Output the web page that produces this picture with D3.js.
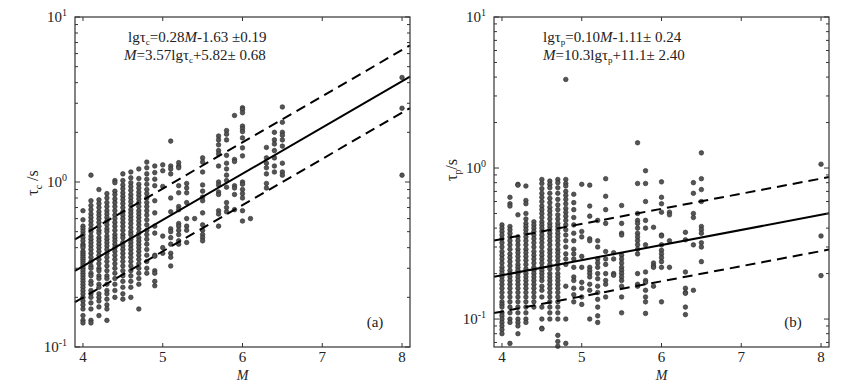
<!DOCTYPE html>
<html><head><meta charset="utf-8">
<script src="https://cdn.jsdelivr.net/npm/d3@7"></script>
<style>
body{margin:0;background:#fff}
svg{display:block}
text{font-family:"Liberation Serif","Tinos","Times New Roman","Nimbus Roman",Times,serif;fill:#222}
</style>
</head><body><svg id="c" width="859" height="382" font-family="Liberation Serif, Times New Roman, serif"></svg>
<script>
// ---------- data ----------
const magsC = [4.0,4.1,4.2,4.3,4.4,4.5,4.6,4.7,4.8,4.9,5.0,5.1,5.2,5.3,5.4,5.5,5.7,5.8,5.9,6.0,6.1,6.3,6.4,6.5,8.0];
const tauC = [
 [0.67,0.59,0.54,0.52,0.50,0.48,0.46,0.44,0.42,0.41,0.40,0.38,0.37,0.36,0.35,0.34,0.33,0.32,0.31,0.30,0.29,0.28,0.27,0.26,0.25,0.24,0.23,0.22,0.21,0.20,0.19,0.18,0.17,0.155,0.145,0.14],
 [1.10,0.77,0.72,0.68,0.64,0.61,0.58,0.55,0.52,0.50,0.47,0.45,0.43,0.41,0.39,0.37,0.35,0.33,0.31,0.30,0.28,0.27,0.25,0.24,0.22,0.21,0.20,0.185,0.17,0.145,0.14],
 [0.90,0.78,0.74,0.70,0.66,0.63,0.60,0.57,0.54,0.51,0.49,0.46,0.44,0.42,0.40,0.38,0.36,0.34,0.32,0.30,0.29,0.27,0.26,0.24,0.23,0.21,0.20,0.19,0.175,0.155],
 [0.85,0.80,0.75,0.71,0.67,0.64,0.61,0.58,0.55,0.52,0.50,0.47,0.45,0.43,0.41,0.39,0.37,0.35,0.33,0.31,0.29,0.27,0.26,0.24,0.22,0.21,0.195,0.18,0.17,0.145],
 [1.02,0.99,0.88,0.84,0.79,0.75,0.71,0.67,0.63,0.60,0.57,0.54,0.51,0.48,0.46,0.44,0.42,0.40,0.38,0.36,0.34,0.32,0.30,0.28,0.26,0.24,0.22,0.20],
 [1.12,1.02,0.96,0.91,0.86,0.82,0.78,0.74,0.70,0.66,0.63,0.60,0.57,0.54,0.51,0.48,0.46,0.43,0.41,0.39,0.37,0.35,0.33,0.31,0.29,0.27,0.25,0.23,0.21,0.195],
 [1.15,1.06,0.99,0.94,0.89,0.84,0.80,0.76,0.72,0.68,0.65,0.62,0.59,0.56,0.53,0.50,0.48,0.45,0.43,0.41,0.39,0.37,0.35,0.33,0.31,0.29,0.27,0.25,0.23,0.20],
 [1.20,1.05,0.97,0.92,0.87,0.83,0.79,0.75,0.71,0.67,0.64,0.61,0.58,0.55,0.52,0.49,0.46,0.44,0.42,0.40,0.38,0.36,0.34,0.32,0.30,0.28,0.26,0.24,0.17],
 [1.32,1.22,1.12,1.04,0.97,0.90,0.85,0.80,0.75,0.71,0.67,0.63,0.59,0.55,0.51,0.48,0.45,0.42,0.39,0.36,0.33,0.30,0.28],
 [1.25,1.14,1.04,0.95,0.77,0.65,0.54,0.49,0.36,0.355,0.29,0.28,0.25,0.235],
 [1.27,1.17,0.94,0.47,0.40,0.37],
 [1.77,1.25,1.20,1.12,0.80,0.66,0.52,0.50,0.46,0.42,0.37,0.35,0.31],
 [1.31,1.25,1.22,0.95,0.86,0.71,0.68,0.56,0.54,0.51,0.48,0.44,0.42],
 [0.98,0.92,0.86,0.75,0.60,0.54,0.51,0.43],
 [0.60],
 [1.40,1.32,1.15,0.96,0.88,0.81,0.77,0.65,0.55,0.51,0.48,0.46,0.44],
 [1.90,1.80,1.68,1.55,1.48,1.25,1.00,0.96,0.87,0.84,0.67,0.64,0.54],
 [2.05,1.95,1.80,1.45,1.30,1.20,1.10,1.02,0.93,0.75,0.70,0.66],
 [2.53,1.37,1.33,0.95,0.92,0.84,0.68],
 [2.82,2.75,2.63,2.18,2.10,2.02,1.85,1.61,1.44,1.00,0.97,0.90,0.85,0.80,0.67,0.58],
 [0.60],
 [1.62,1.40,1.30,1.22,1.12,0.98,0.92],
 [2.00,1.80,1.70,1.55,1.40,1.25,1.15],
 [2.85,2.30,2.00,1.92,1.80,1.65,1.30,1.15,1.10],
 [4.30,2.80,1.10]
];
const magsP = [4.0,4.1,4.2,4.3,4.4,4.5,4.6,4.7,4.8,4.9,5.0,5.1,5.2,5.3,5.4,5.5,5.7,5.8,5.9,6.0,6.1,6.3,6.4,6.5,8.0];
const tauP = [
 [0.42,0.40,0.38,0.36,0.34,0.32,0.30,0.28,0.265,0.25,0.235,0.22,0.21,0.20,0.19,0.18,0.17,0.16,0.15,0.14,0.13,0.125,0.12,0.11,0.105,0.10,0.095,0.09,0.085,0.08],
 [0.64,0.58,0.56,0.41,0.39,0.37,0.35,0.33,0.31,0.29,0.27,0.255,0.24,0.225,0.21,0.20,0.19,0.18,0.17,0.16,0.15,0.14,0.13,0.12,0.11,0.10,0.095,0.069],
 [0.78,0.77,0.49,0.35,0.33,0.31,0.29,0.275,0.26,0.245,0.23,0.22,0.21,0.20,0.19,0.18,0.17,0.16,0.15,0.14,0.13,0.12,0.11,0.10,0.095,0.09,0.08],
 [0.76,0.61,0.58,0.50,0.46,0.43,0.41,0.39,0.37,0.35,0.33,0.31,0.29,0.275,0.26,0.245,0.23,0.215,0.20,0.19,0.18,0.17,0.16,0.15,0.14,0.13,0.12,0.11,0.10,0.095],
 [0.44,0.42,0.40,0.38,0.36,0.34,0.32,0.30,0.28,0.265,0.25,0.235,0.22,0.21,0.20,0.19,0.18,0.17,0.16,0.15,0.14,0.13,0.12],
 [0.84,0.79,0.73,0.68,0.64,0.60,0.56,0.53,0.50,0.47,0.44,0.42,0.40,0.38,0.36,0.34,0.32,0.30,0.28,0.265,0.25,0.235,0.22,0.21,0.20,0.19,0.18,0.165,0.155,0.14,0.12,0.10,0.087,0.086],
 [0.82,0.78,0.74,0.68,0.63,0.59,0.55,0.52,0.49,0.46,0.43,0.41,0.39,0.37,0.35,0.33,0.31,0.29,0.275,0.26,0.245,0.23,0.215,0.20,0.19,0.18,0.17,0.16,0.15,0.14,0.13,0.12,0.11,0.10],
 [0.84,0.80,0.74,0.68,0.62,0.57,0.53,0.49,0.46,0.43,0.41,0.39,0.37,0.35,0.33,0.31,0.29,0.275,0.26,0.245,0.23,0.215,0.20,0.19,0.18,0.17,0.16,0.15,0.14,0.13,0.12,0.11,0.10,0.078,0.071,0.066],
 [3.86,0.84,0.79,0.76,0.70,0.66,0.62,0.58,0.54,0.51,0.48,0.45,0.42,0.39,0.36,0.33,0.30,0.27,0.25,0.23,0.165,0.10,0.069],
 [0.67,0.59,0.53,0.47,0.42,0.37,0.33,0.29,0.27,0.25,0.22,0.19,0.18,0.16,0.145,0.13],
 [0.78,0.38,0.35,0.26,0.22,0.175,0.16,0.14,0.125],
 [0.77,0.56,0.48,0.34,0.33,0.22,0.21,0.20,0.19,0.17,0.155,0.10],
 [0.45,0.33,0.30,0.25,0.235,0.22,0.20,0.185,0.165,0.15,0.135,0.12,0.105,0.095],
 [0.85,0.65,0.53,0.43,0.28,0.25,0.23,0.20,0.18,0.17,0.14],
 [0.275,0.25,0.20,0.195],
 [0.565,0.43,0.37,0.36,0.265,0.25,0.235,0.22,0.21,0.20,0.19,0.18,0.165,0.14,0.11],
 [1.47,0.79,0.50,0.45,0.43,0.40,0.37,0.35,0.33,0.31,0.29,0.27,0.20,0.17,0.165],
 [0.96,0.79,0.60,0.45,0.40,0.31,0.205,0.18,0.175,0.155,0.14,0.13,0.109],
 [0.405,0.235,0.225,0.22,0.165],
 [0.81,0.64,0.58,0.51,0.36,0.355,0.31,0.285,0.27,0.255,0.24,0.22,0.13],
 [0.51,0.49,0.33,0.22],
 [0.375,0.335,0.205,0.16,0.15,0.148,0.12,0.107],
 [0.80,0.68,0.50,0.47,0.31,0.155],
 [1.26,0.85,0.72,0.60,0.41,0.39,0.37,0.32,0.30,0.24],
 [1.06,0.355,0.194]
];
// fit: [slope, intercept, ±sd] of lg(tau) = slope*M + intercept
const fitC = [0.28, -1.63, 0.19];
const fitP = [0.10, -1.11, 0.24];
const xTicks = [4,5,6,7,8];
const yMajorC = [0.1, 1, 10];
const yMajorP = [0.1, 1, 10];

// ---------- drawing ----------
const svg = d3.select("#c");

function panel(o) {
  const g = svg.append("g");
  const x = d3.scaleLinear().domain([3.9, 8.1]).range([o.left, o.right]);
  const y = d3.scaleLog().domain(o.yDom).range([o.bottom, o.top]);

  const pts = [];
  o.mags.forEach((m, i) => o.vals[i].forEach(v => pts.push([m, v])));
  g.append("g").selectAll("circle").data(pts).join("circle")
    .attr("cx", d => x(d[0])).attr("cy", d => y(d[1])).attr("r", 2.3)
    .attr("fill", "#555").attr("stroke", "#2a2a2a").attr("stroke-width", 0.6);

  const [s, b, sd] = o.fit;
  const line = d3.line().x(d => x(d[0])).y(d => y(d[1]));
  const mk = off => [3.9, 8.1].map(m => [m, Math.pow(10, s * m + b + off)]);
  g.append("path").attr("d", line(mk(0))).attr("fill", "none").attr("stroke", "#000").attr("stroke-width", 2);
  [sd, -sd].forEach(off => g.append("path").attr("d", line(mk(off))).attr("fill", "none")
    .attr("stroke", "#000").attr("stroke-width", 2).attr("stroke-dasharray", "10,6"));

  g.append("rect").attr("x", o.left).attr("y", o.top).attr("width", o.right - o.left)
    .attr("height", o.bottom - o.top).attr("fill", "none").attr("stroke", "#333").attr("stroke-width", 1.2);

  xTicks.forEach(t => {
    const px = x(t);
    g.append("line").attr("x1", px).attr("x2", px).attr("y1", o.bottom).attr("y2", o.bottom - 4).attr("stroke", "#333");
    g.append("line").attr("x1", px).attr("x2", px).attr("y1", o.top).attr("y2", o.top + 4).attr("stroke", "#333");
    g.append("text").attr("x", px).attr("y", o.bottom + 15).attr("text-anchor", "middle")
      .attr("font-size", 15).text(t);
  });
  y.ticks().forEach(t => {
    const lg = Math.log10(t);
    const major = Math.abs(lg - Math.round(lg)) < 1e-9;
    const len = major ? 5 : 3;
    const py = y(t);
    g.append("line").attr("x1", o.left).attr("x2", o.left + len).attr("y1", py).attr("y2", py).attr("stroke", "#333");
    g.append("line").attr("x1", o.right).attr("x2", o.right - len).attr("y1", py).attr("y2", py).attr("stroke", "#333");
  });
  o.yMajor.forEach(t => {
    const e = Math.round(Math.log10(t));
    const tx = g.append("text").attr("x", o.left - 8).attr("y", y(t) + 5).attr("text-anchor", "end").attr("font-size", 15);
    tx.append("tspan").text("10");
    tx.append("tspan").attr("font-size", 10).attr("dy", -6).text(e);
  });

  g.append("text").attr("x", (o.left + o.right) / 2).attr("y", 380).attr("text-anchor", "middle")
    .attr("font-size", 14).attr("font-style", "italic").text("M");
  const yt = g.append("text").attr("transform", `translate(${o.ylabX},${o.ylabY}) rotate(-90)`)
    .attr("text-anchor", "middle").attr("font-size", 16);
  yt.append("tspan").text("τ");
  yt.append("tspan").attr("font-size", 10).attr("dy", 4).text(o.sub);
  yt.append("tspan").attr("dy", -4).text(o.slash);

  const e1 = g.append("text").attr("x", o.eqX).attr("y", 42).attr("font-size", 15);
  e1.append("tspan").text("lgτ");
  e1.append("tspan").attr("font-size", 9).attr("dy", 3).text(o.sub);
  e1.append("tspan").attr("dy", -3).text(o.eq1a);
  e1.append("tspan").attr("font-style", "italic").text("M");
  e1.append("tspan").text(o.eq1b);
  const e2 = g.append("text").attr("x", o.eqX2).attr("y", 60).attr("font-size", 15);
  e2.append("tspan").attr("font-style", "italic").text("M");
  e2.append("tspan").text(o.eq2a);
  e2.append("tspan").attr("font-size", 9).attr("dy", 3).text(o.sub);
  e2.append("tspan").attr("dy", -3).text(o.eq2b);

  g.append("text").attr("x", o.tagX).attr("y", 327).attr("text-anchor", "middle").attr("font-size", 15).text(o.tag);
}

panel({left: 75, right: 410, top: 17, bottom: 347, yDom: [0.1, 10], mags: magsC, vals: tauC, fit: fitC,
  yMajor: yMajorC, sub: "c", slash: " /s", ylabX: 38, ylabY: 183,
  eqX: 128, eqX2: 124, eq1a: "=0.28", eq1b: "-1.63 ±0.19", eq2a: "=3.57lgτ", eq2b: "+5.82± 0.68",
  tag: "(a)", tagX: 375});
panel({left: 494, right: 829, top: 17, bottom: 347, yDom: [0.0653, 10], mags: magsP, vals: tauP, fit: fitP,
  yMajor: yMajorP, sub: "p", slash: "/s", ylabX: 457, ylabY: 170,
  eqX: 543, eqX2: 543, eq1a: "=0.10", eq1b: "-1.11± 0.24", eq2a: "=10.3lgτ", eq2b: "+11.1± 2.40",
  tag: "(b)", tagX: 793});
</script>
</body></html>
